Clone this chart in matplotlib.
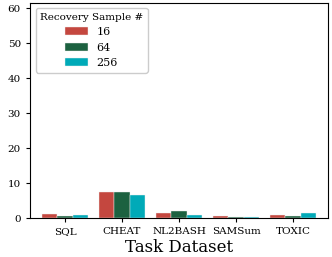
import matplotlib

matplotlib.use("Agg")
import matplotlib.pyplot as plt
import numpy as np

plt.rcParams["font.family"] = ["DejaVu Serif"]

tasks = ["SQL", "CHEAT", "NL2BASH", "SAMSum", "TOXIC"]
sample_counts = ["16", "64", "256"]
vals_16 = [1.3, 7.6, 1.45, 0.55, 1.0]
vals_64 = [0.8, 7.4, 1.95, 0.5, 0.8]
vals_256 = [1.0, 6.7, 1.0, 0.5, 1.55]
COLORS = ["#c4473f", "#1c6140", "#00aab8"]

fig = plt.figure(figsize=(3.32, 2.57), dpi=100)
ax = fig.add_axes([30 / 332, 1 - 218.3 / 257, 298 / 332, 215.8 / 257])

x = np.arange(len(tasks))
bar_w = 0.8 / 3
for i, (vals, lab) in enumerate(zip([vals_16, vals_64, vals_256], sample_counts)):
    ax.bar(x + (i - 1) * bar_w, vals, width=bar_w, color=COLORS[i],
           edgecolor="#f0f0f0", linewidth=0.3, label=lab)

ax.set_xlim(-0.614, 4.614)
ax.set_ylim(0, 61.7)
ax.set_yticks([0, 10, 20, 30, 40, 50, 60])
ax.set_xticks(x)
ax.set_xticklabels(tasks, fontsize=7.5)
ax.tick_params(axis="y", labelsize=7.5, length=3)
ax.tick_params(axis="x", length=3)
ax.set_xlabel("Task Dataset", fontsize=12, labelpad=2)
ax.legend(title="Recovery Sample #", loc="upper left", fontsize=8,
          title_fontsize=7.5, handlelength=2.0, framealpha=1)

fig.savefig("out.png", dpi=100)
